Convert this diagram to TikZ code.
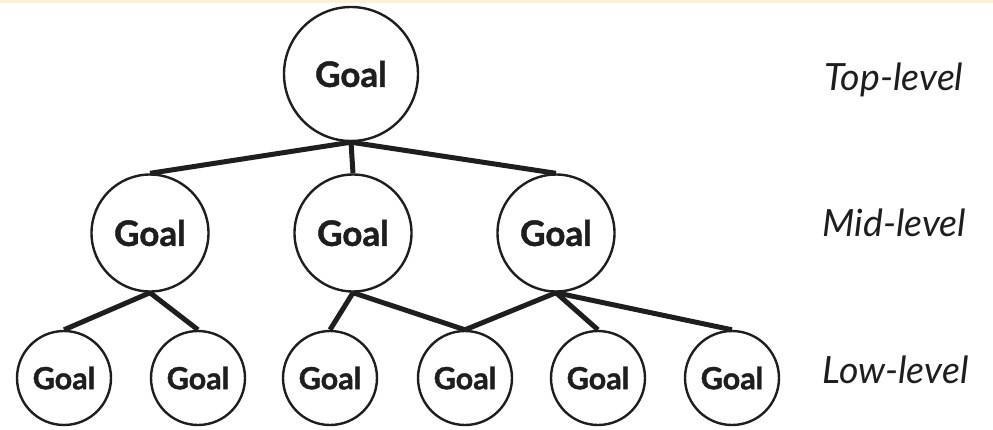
\documentclass[tikz,border=0pt]{standalone}
\usepackage{fontspec}
\setmainfont{Lato}
\newfontfamily\goalfont{Lato}[BoldFeatures={FakeBold=1.2}]
\definecolor{ink}{HTML}{1E1E1E}
\definecolor{strip}{HTML}{FBF0DC}
\begin{document}
\begin{tikzpicture}[x=1pt,y=-1pt,
  goal/.style={circle,draw=ink,line width=2.4pt,fill=white,inner sep=0pt,text=ink},
  topgoal/.style={goal,minimum size=134pt,font=\goalfont\bfseries\fontsize{35}{40}\selectfont},
  midgoal/.style={goal,minimum size=117pt,font=\goalfont\bfseries\fontsize{35}{40}\selectfont},
  lowgoal/.style={goal,minimum size=94pt,font=\goalfont\bfseries\fontsize{30.5}{36}\selectfont},
  link/.style={draw=ink,line width=5pt},
  lvl/.style={anchor=base west,text=ink,font=\itshape\fontsize{37.5}{44}\selectfont}]
\useasboundingbox (0,0) rectangle (993,429);
\fill[strip] (0,0) rectangle (993,2.5);
\node[topgoal] (t) at (351,74) {Goal};
\node[midgoal] (m1) at (150,233) {Goal};
\node[midgoal] (m2) at (353,233) {Goal};
\node[midgoal] (m3) at (556,233) {Goal};
\node[lowgoal] (l1) at (64,378) {Goal};
\node[lowgoal] (l2) at (198,378) {Goal};
\node[lowgoal] (l3) at (330,378) {Goal};
\node[lowgoal] (l4) at (465,378) {Goal};
\node[lowgoal] (l5) at (598,378) {Goal};
\node[lowgoal] (l6) at (732,378) {Goal};
\draw[link] (t.south) -- (m1.north);
\draw[link] (t.south) -- (m2.north);
\draw[link] (t.south) -- (m3.north);
\draw[link] (m1.south) -- (l1.north);
\draw[link] (m1.south) -- (l2.north);
\draw[link] (m2.south) -- (l3.north);
\draw[link] (m2.south) -- (l4.north);
\draw[link] (m3.south) -- (l4.north);
\draw[link] (m3.south) -- (l5.north);
\draw[link] (m3.south) -- (l6.north);
\node[lvl] (a) at (821,90) {Top-level};
\node[lvl] (b) at (819,236) {Mid-level};
\node[lvl] (c) at (819,383) {Low-level};
\end{tikzpicture}
\end{document}
